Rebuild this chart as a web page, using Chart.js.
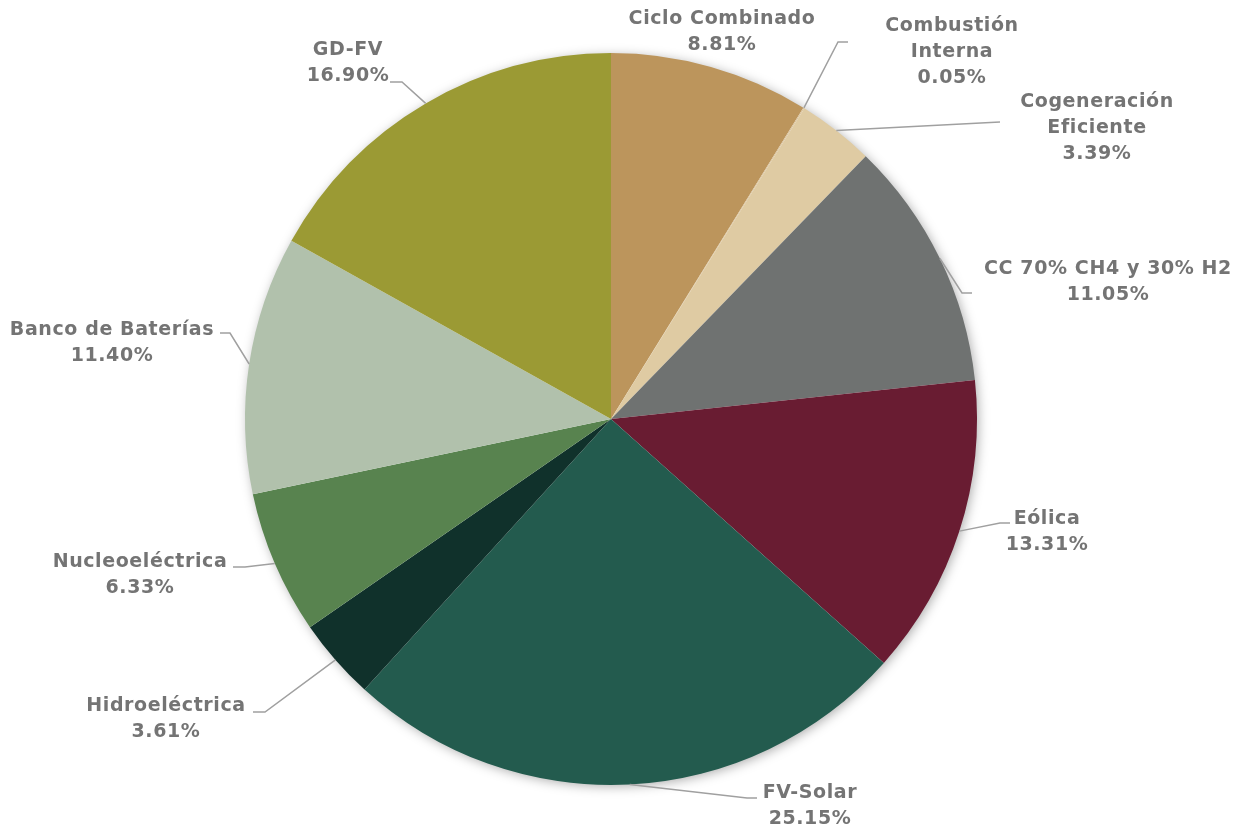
<!DOCTYPE html>
<html>
<head>
<meta charset="utf-8">
<script src="https://cdn.jsdelivr.net/npm/chart.js@4.4.1/dist/chart.umd.min.js"></script>
<style>
  html, body { margin: 0; padding: 0; background: #fff; }
  #wrap { width: 1239px; height: 830px; }
</style>
</head>
<body>
<div id="wrap"><canvas id="chart" width="1239" height="830"></canvas></div>
<script>
  labels = ['Ciclo Combinado', 'Combustión Interna', 'Cogeneración Eficiente', 'CC 70% CH4 y 30% H2', 'Eólica', 'FV-Solar', 'Hidroeléctrica', 'Nucleoeléctrica', 'Banco de Baterías', 'GD-FV']
  values = [8.81, 0.05, 3.39, 11.05, 13.31, 25.15, 3.61, 6.33, 11.40, 16.90]
  colors = ['#BC955C', '#D9C19A', '#DFCBA3', '#6F7271', '#691C32', '#235B4E', '#10312B', '#58834F', '#B1C1AC', '#9B9A34']
  // how each label's text is split into lines
  labelLines = [['Ciclo Combinado'], ['Combustión', 'Interna'], ['Cogeneración', 'Eficiente'], ['CC 70% CH4 y 30% H2'], ['Eólica'], ['FV-Solar'], ['Hidroeléctrica'], ['Nucleoeléctrica'], ['Banco de Baterías'], ['GD-FV']]

  // label placement, offsets from the pie centre (text = first line centre, elbow / end of leader)
  placement = [
    { tx: 111, ty: -400 },
    { tx: 341, ty: -393, ex: 227, ey: -377, hx: 237 },
    { tx: 486, ty: -317, ex: 389, ey: -297, hx: 389 },
    { tx: 497, ty: -150, ex: 351, ey: -126, hx: 361 },
    { tx: 436, ty: 100, ex: 389, ey: 104, hx: 399 },
    { tx: 199, ty: 374, ex: 136, ey: 379, hx: 146 },
    { tx: -445, ty: 287, ex: -346, ey: 293, hx: -358 },
    { tx: -471, ty: 143, ex: -366, ey: 148, hx: -378 },
    { tx: -499, ty: -89, ex: -381, ey: -86, hx: -391 },
    { tx: -263, ty: -369, ex: -209, ey: -337, hx: -221 }
  ]

  const pieShadow = {
    id: 'pieShadow',
    beforeDatasetsDraw: (chart) => {
      const arc = chart.getDatasetMeta(0).data[0];
      if (!arc) return;
      const { ctx } = chart;
      ctx.save();
      ctx.shadowColor = 'rgba(0,0,0,0.35)';
      ctx.shadowBlur = 12;
      ctx.shadowOffsetX = 2;
      ctx.shadowOffsetY = 2;
      ctx.fillStyle = '#ffffff';
      ctx.beginPath();
      ctx.arc(arc.x, arc.y, arc.outerRadius - 1, 0, Math.PI * 2);
      ctx.fill();
      ctx.restore();
    }
  };

  const sliceLabels = {
    id: 'sliceLabels',
    afterDatasetsDraw: (chart) => {
      const { ctx } = chart;
      const meta = chart.getDatasetMeta(0);
      const lineH = 26;
      ctx.save();
      ctx.font = 'bold 19px "DejaVu Sans", sans-serif';
      ctx.letterSpacing = '0.6px';
      ctx.textAlign = 'center';
      ctx.textBaseline = 'middle';
      meta.data.forEach((arc, i) => {
        const p = placement[i];
        const cx = arc.x, cy = arc.y;
        if (p.ex !== undefined) {
          const mid = (arc.startAngle + arc.endAngle) / 2;
          const ax = cx + Math.cos(mid) * arc.outerRadius;
          const ay = cy + Math.sin(mid) * arc.outerRadius;
          ctx.strokeStyle = '#a0a0a0';
          ctx.lineWidth = 1.5;
          ctx.beginPath();
          ctx.moveTo(ax, ay);
          ctx.lineTo(cx + p.ex, cy + p.ey);
          ctx.lineTo(cx + p.hx, cy + p.ey);
          ctx.stroke();
        }
        const lines = labelLines[i].concat([values[i].toFixed(2) + '%']);
        ctx.fillStyle = '#747474';
        lines.forEach((t, k) => {
          ctx.fillText(t, cx + p.tx, cy + p.ty + k * lineH);
        });
      });
      ctx.restore();
    }
  };

  var chart = new Chart('chart', {
    type: 'pie',
    data: {
      labels: labels,
      datasets: [{
        data: values,
        backgroundColor: colors,
        borderWidth: 0
      }]
    },
    options: {
      responsive: false,
      animation: false,
      layout: { padding: { top: 53, bottom: 45, left: 200, right: 217 } },
      plugins: {
        legend: { display: false },
        tooltip: { enabled: false }
      }
    },
    plugins: [pieShadow, sliceLabels]
  });
</script>
</body>
</html>
